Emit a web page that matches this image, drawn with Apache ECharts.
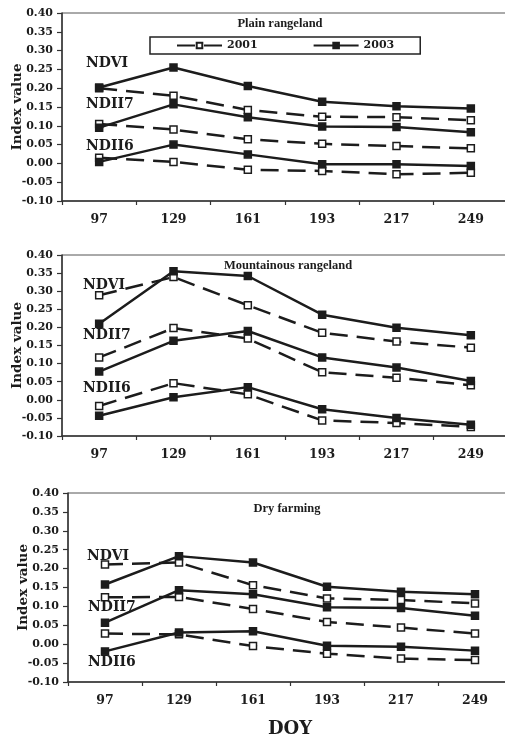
<!DOCTYPE html>
<html>
<head>
<meta charset="utf-8">
<script src="https://cdn.jsdelivr.net/npm/echarts@6/dist/echarts.min.js"></script>
<style>html,body{margin:0;padding:0;background:#fff}#c{width:505px;height:737px}</style>
</head>
<body>
<div id="c"></div>
<script>
const categories = ['97','129','161','193','217','249'];
const yTicks = {min: -0.10, max: 0.40, interval: 0.05};
const panelTitles = ['Plain rangeland', 'Mountainous rangeland', 'Dry farming'];
const indexNames = ['NDVI', 'NDII7', 'NDII6'];
const years = ['2001', '2003'];

// Plain rangeland
const plainNDVI2001 = [0.200, 0.180, 0.142, 0.124, 0.123, 0.115];
const plainNDVI2003 = [0.202, 0.255, 0.206, 0.164, 0.152, 0.146];
const plainNDII7_2001 = [0.105, 0.090, 0.064, 0.052, 0.046, 0.040];
const plainNDII7_2003 = [0.095, 0.157, 0.123, 0.098, 0.097, 0.083];
const plainNDII6_2001 = [0.015, 0.004, -0.017, -0.020, -0.029, -0.025];
const plainNDII6_2003 = [0.004, 0.050, 0.024, -0.002, -0.002, -0.007];

// Mountainous rangeland
const mountNDVI2001 = [0.289, 0.339, 0.261, 0.185, 0.161, 0.144];
const mountNDVI2003 = [0.210, 0.355, 0.342, 0.235, 0.199, 0.178];
const mountNDII7_2001 = [0.117, 0.198, 0.169, 0.076, 0.061, 0.040];
const mountNDII7_2003 = [0.078, 0.163, 0.190, 0.117, 0.089, 0.052];
const mountNDII6_2001 = [-0.017, 0.046, 0.015, -0.057, -0.064, -0.075];
const mountNDII6_2003 = [-0.044, 0.007, 0.035, -0.026, -0.050, -0.069];

// Dry farming
const dryNDVI2001 = [0.211, 0.216, 0.156, 0.121, 0.117, 0.108];
const dryNDVI2003 = [0.158, 0.233, 0.216, 0.152, 0.139, 0.132];
const dryNDII7_2001 = [0.124, 0.125, 0.093, 0.059, 0.044, 0.028];
const dryNDII7_2003 = [0.057, 0.143, 0.132, 0.098, 0.096, 0.075];
const dryNDII6_2001 = [0.028, 0.026, -0.005, -0.025, -0.038, -0.042];
const dryNDII6_2003 = [-0.019, 0.031, 0.034, -0.004, -0.007, -0.017];

const panels = [
  [[plainNDVI2001, plainNDVI2003], [plainNDII7_2001, plainNDII7_2003], [plainNDII6_2001, plainNDII6_2003]],
  [[mountNDVI2001, mountNDVI2003], [mountNDII7_2001, mountNDII7_2003], [mountNDII6_2001, mountNDII6_2003]],
  [[dryNDVI2001, dryNDVI2003], [dryNDII7_2001, dryNDII7_2003], [dryNDII6_2001, dryNDII6_2003]]
];

const INK = '#1c1c1c';
const WIDE = 'DejaVu Serif';
const TIMES = 'Liberation Serif';

const gridBoxes = [
  {left: 62, top: 13, width: 446, height: 188},
  {left: 62, top: 255, width: 446, height: 181},
  {left: 68, top: 493, width: 444, height: 189}
];

const grids = gridBoxes.map(b => Object.assign({show: true, borderColor: '#555', borderWidth: 1,
  backgroundColor: 'transparent', containLabel: false, outerBoundsMode: 'none'}, b));

const xAxes = gridBoxes.map((b, i) => ({
  type: 'category', gridIndex: i, data: categories, boundaryGap: true,
  axisLine: {onZero: false, lineStyle: {color: '#333', width: 1.5}},
  axisTick: {show: true, length: 4, lineStyle: {color: '#333', width: 1.2}},
  axisLabel: {color: INK, fontFamily: WIDE, fontWeight: 'bold', fontSize: 12.5, margin: 12},
  name: i === 2 ? 'DOY' : '', nameLocation: 'middle', nameGap: 38, nameMoveOverlap: false,
  nameTextStyle: {color: INK, fontFamily: WIDE, fontWeight: 'bold', fontSize: 18},
  splitLine: {show: false}
}));

const yAxes = gridBoxes.map((b, i) => ({
  type: 'value', gridIndex: i, min: yTicks.min, max: yTicks.max, interval: yTicks.interval,
  axisLine: {show: true, onZero: false, lineStyle: {color: '#333', width: 1.5}},
  axisTick: {show: true, length: 5, lineStyle: {color: '#333', width: 1.2}},
  axisLabel: {color: INK, fontFamily: WIDE, fontWeight: 'bold', fontSize: 11, margin: 9,
    formatter: v => v.toFixed(2)},
  splitLine: {show: false},
  name: 'Index value', nameLocation: 'middle', nameGap: 38, nameRotate: 90, nameMoveOverlap: false,
  nameTextStyle: {color: INK, fontFamily: WIDE, fontWeight: 'bold', fontSize: 13.5}
}));

const series = [];
panels.forEach((panel, gi) => {
  panel.forEach((pair, k) => {
    pair.forEach((vals, yi) => {
      const dashed = yi === 0;
      series.push({
        type: 'line', name: years[yi], xAxisIndex: gi, yAxisIndex: gi,
        data: vals, symbol: 'rect', symbolSize: 7, showSymbol: true,
        lineStyle: {color: INK, width: 2.5, type: dashed ? [18, 9] : 'solid'},
        itemStyle: {color: dashed ? '#fff' : INK, borderColor: INK, borderWidth: 1.5},
        emphasis: {disabled: true}, animation: false, z: dashed ? 2 : 3
      });
    });
  });
});

const labelPos = [
  [[86, 63], [86, 104], [86, 146]],
  [[83, 285], [83, 335], [83, 388]],
  [[87, 556], [88, 607], [88, 662]]
];
const titlePos = [[280, 24], [288, 266], [287, 509]];

const graphics = [];
labelPos.forEach((pl, gi) => {
  pl.forEach((p, k) => {
    graphics.push({type: 'text', x: p[0], y: p[1], z: 10,
      style: {text: indexNames[k], fill: INK, font: 'bold 14px "' + WIDE + '"', align: 'left', verticalAlign: 'middle'}});
  });
  graphics.push({type: 'text', x: titlePos[gi][0], y: titlePos[gi][1], z: 10,
    style: {text: panelTitles[gi], fill: INK, font: 'bold 12.5px "' + TIMES + '"', align: 'center', verticalAlign: 'middle'}});
});

const chart = echarts.init(document.getElementById('c'), null, {renderer: 'canvas'});
chart.setOption({
  animation: false,
  backgroundColor: '#fff',
  grid: grids, xAxis: xAxes, yAxis: yAxes, series: series,
  legend: {
    data: years, left: 150, top: 37, orient: 'horizontal',
    itemWidth: 45, itemHeight: 7, itemGap: 55,
    padding: [3, 26], borderColor: '#222', borderWidth: 1.5, backgroundColor: '#fff',
    textStyle: {color: INK, fontFamily: WIDE, fontWeight: 'bold', fontSize: 11},
    selectedMode: false
  },
  graphic: graphics
});
</script>
</body>
</html>
